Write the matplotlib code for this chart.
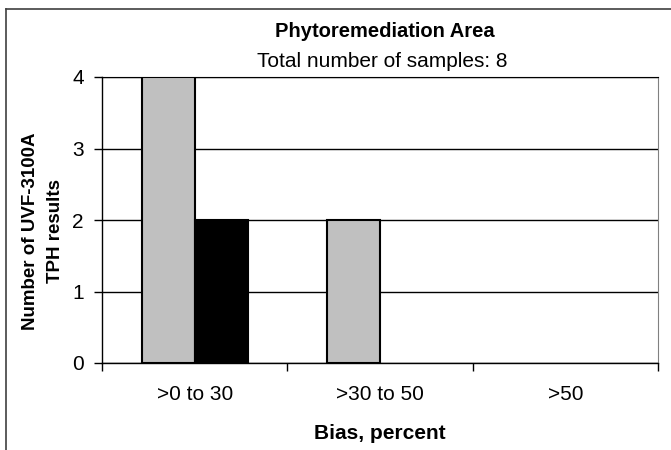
import numpy as np
import matplotlib.pyplot as plt
from matplotlib.lines import Line2D

plt.rcParams['font.family'] = ['Liberation Sans', 'DejaVu Sans']

categories = ['>0 to 30', '>30 to 50', '>50']
series_gray = [4, 2, 0]
series_black = [2, 0, 0]
y_ticks = [0, 1, 2, 3, 4]

fig = plt.figure(figsize=(6.71, 4.5), dpi=100)
ax = fig.add_axes([102 / 671, 1 - 363 / 450, 556 / 671, 286 / 450])

x = np.arange(len(categories))
w = 1 / 3.5  # excel gap width 150%
ax.bar(x - w / 2, series_gray, w, color='#c0c0c0', edgecolor='black',
       linewidth=[1.5 if v else 0 for v in series_gray], zorder=3)
ax.bar(x + w / 2, series_black, w, color='black', edgecolor='black',
       linewidth=[1.5 if v else 0 for v in series_black], zorder=3)

ax.set_xlim(-0.5, 2.5)
ax.set_ylim(0, 4)
ax.set_yticks(y_ticks)
ax.yaxis.grid(True, color='black', linewidth=1)
ax.set_axisbelow(True)

# category boundaries carry the ticks, labels sit in the middle
ax.set_xticks([-0.5, 0.5, 1.5, 2.5])
ax.set_xticklabels([])
ax.set_xticks(x, minor=True)
ax.set_xticklabels(categories, minor=True)
ax.tick_params(axis='x', which='minor', length=0, pad=16, labelsize=15)
ax.tick_params(axis='x', which='major', length=6, direction='out', width=1)
ax.tick_params(axis='y', length=6, direction='out', width=1, labelsize=15, pad=7)

for s in ['left', 'bottom']:
    ax.spines[s].set_color('black')
    ax.spines[s].set_linewidth(1)
ax.spines['top'].set_color('black')
ax.spines['right'].set_color('#808080')

ax.set_xlabel('Bias, percent', fontsize=15, fontweight='bold', labelpad=14)
ax.set_ylabel('Number of UVF-3100A\nTPH results', fontsize=13.5, fontweight='bold',
              linespacing=1.6)
ax.yaxis.set_label_coords(-0.068, 0.46)

fig.text(385 / 671, 1 - 37 / 450, 'Phytoremediation Area', ha='center', va='baseline',
         fontsize=14.5, fontweight='bold')
fig.text(382 / 671, 1 - 67 / 450, 'Total number of samples: 8', ha='center', va='baseline',
         fontsize=15)

# outer chart frame (cut off at right and bottom)
fig.add_artist(Line2D([5.5 / 671, 5.5 / 671], [0, 1 - 8.5 / 450], color='#404040', lw=1.2,
                      transform=fig.transFigure))
fig.add_artist(Line2D([5.5 / 671, 1], [1 - 8.5 / 450, 1 - 8.5 / 450], color='#404040', lw=1.2,
                      transform=fig.transFigure))

fig.savefig('out.png', dpi=100)
